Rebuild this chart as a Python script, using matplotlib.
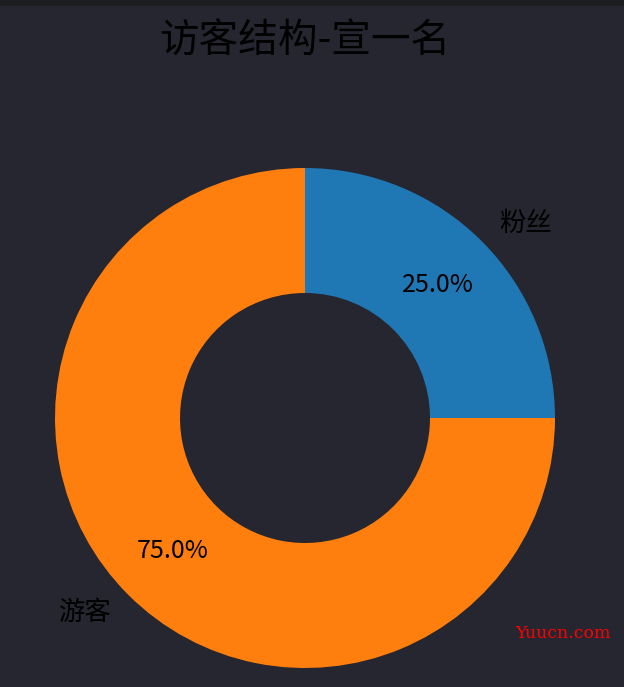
import matplotlib
matplotlib.use("Agg")
import matplotlib.pyplot as plt
from matplotlib.patches import Rectangle

plt.rcParams['font.family'] = ['Noto Sans CJK SC', 'DejaVu Sans']

labels = ["粉丝", "游客"]
values = [25, 75]
colors = ["#1f77b4", "#ff7f0e"]
title = "访客结构-宣一名"

bg = "#25262f"
fig = plt.figure(figsize=(6.24, 6.87), dpi=100, facecolor=bg)
ax = fig.add_axes([5 / 624, -31 / 687, 600 / 624, 600 / 687])
ax.set_facecolor(bg)

wedges, texts, autotexts = ax.pie(values, labels=labels, colors=colors,
                                  autopct="%1.1f%%", pctdistance=0.75,
                                  wedgeprops=dict(width=0.5),
                                  textprops=dict(fontsize=18, color="black"))
for t in texts:
    t.set_fontsize(19)
ax.set_xlim(-1.2, 1.2)
ax.set_ylim(-1.2, 1.2)
ax.set_aspect("equal")
ax.axis("off")
for w in wedges:
    w.set_clip_on(False)

fig.text(305 / 624, 1 - 42 / 687, title, fontsize=28.5, color="black",
         ha="center", va="center")

# top strip
fig.patches.append(Rectangle((0, 1 - 6 / 687), 1, 6 / 687, transform=fig.transFigure,
                             facecolor="#1d1e22", edgecolor="none"))

fig.text(563 / 624, 1 - 633 / 687, "Yuucn.com", fontsize=12.5, color="red",
         family="DejaVu Serif", ha="center", va="center")

fig.savefig("out.png", dpi=100, facecolor=bg)
